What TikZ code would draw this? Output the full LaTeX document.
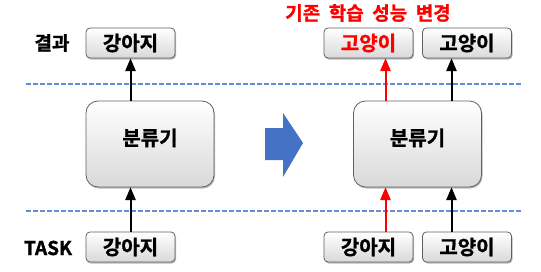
\documentclass[tikz,border=0pt]{standalone}
\usepackage{fontspec}
\setmainfont{Noto Sans CJK KR}[BoldFont={Noto Sans CJK KR Bold}, BoldFeatures={FakeBold=1.2}]
\usetikzlibrary{arrows,positioning,shadows,calc}
\definecolor{dashblue}{RGB}{100,140,215}
\definecolor{arrblue}{RGB}{68,114,196}

\begin{document}
\begin{tikzpicture}[x=1pt, y=-1pt,
    labbox/.style={draw=gray!75!black, line width=0.8pt, rounded corners=4pt, top color=white, middle color=white, bottom color=gray!30,
        drop shadow={shadow xshift=1pt, shadow yshift=-1.5pt, fill=gray!90!black},
        minimum width=89pt, minimum height=30pt, inner sep=0pt, font=\fontsize{20}{20}\selectfont\bfseries},
    clfbox/.style={labbox, rounded corners=12pt, minimum width=128pt, minimum height=86pt},
    sidetxt/.style={font=\fontsize{19}{19}\selectfont\bfseries},
    uparr/.style={-triangle 45, line width=2pt},
    sep/.style={dashblue, line width=1.2pt, dash pattern=on 5pt off 2pt}]
                \useasboundingbox (0,0) rectangle (541,271);
                % Separators
                \draw[sep] (26,84) -- (521,84);
                \draw[sep] (26,211) -- (521,211);

                % Before
                \node[sidetxt] (res) at (52,43) {결과};
                \node[sidetxt] (task) at (48,248) {TASK};
                \node[labbox] (outL) at (130.5,43) {강아지};
                \node[clfbox, text depth=14pt] (clfL) at (150,144) {분류기};
                \node[labbox] (inL) at (130.5,247) {강아지};
                \draw[uparr] (inL.north) -- (inL.north |- clfL.south);
                \draw[uparr] (outL.south |- clfL.north) -- (outL.south);

                % Arrow between
                \fill[arrblue] (265,128) -- (283,128) -- (283,113) -- (303,143) -- (283,177) -- (283,160) -- (265,160) -- cycle;

                % After
                \node[red, sidetxt] (title) at (368,13) {기존\hspace{0.45em}학습\hspace{0.45em}성능\hspace{0.45em}변경};
                \node[labbox, text=red] (outA) at (368.5,43) {고양이};
                \node[labbox] (outB) at (467,43) {고양이};
                \node[clfbox, text depth=14pt] (clfR) at (417.5,144) {분류기};
                \node[labbox] (inA) at (368.5,247) {강아지};
                \node[labbox] (inB) at (467,247) {고양이};
                \coordinate (pA) at ($(clfR.south)+(-32,0)$);
                \coordinate (pB) at ($(clfR.south)+(34,0)$);
                \draw[uparr, red] (pA |- inA.north) -- (pA);
                \draw[uparr] (pB |- inB.north) -- (pB);
                \draw[uparr, red] (pA |- clfR.north) -- (pA |- outA.south);
                \draw[uparr] (pB |- clfR.north) -- (pB |- outB.south);
\end{tikzpicture}
\end{document}
